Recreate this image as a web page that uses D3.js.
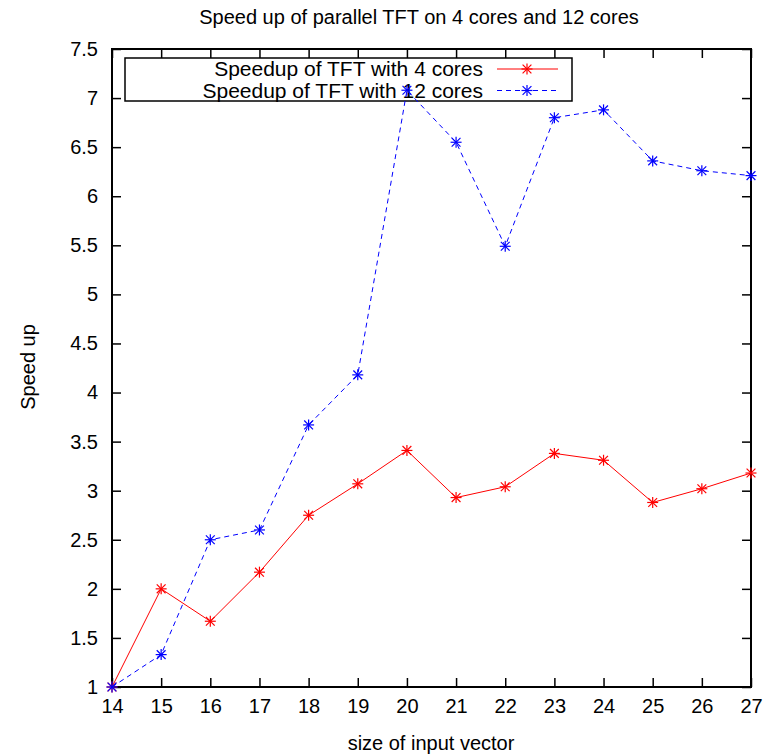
<!DOCTYPE html>
<html><head><meta charset="utf-8">
<script src="https://cdn.jsdelivr.net/npm/d3@7"></script>
<style>
body{margin:0;background:#fff;}
text{font-family:"Liberation Sans",Arial,sans-serif;fill:#000;}
</style></head>
<body>
<svg id="chart" width="766" height="755"></svg>
<script>
const sizes = [14,15,16,17,18,19,20,21,22,23,24,25,26,27];
const speedup4 = [1.00,2.00,1.67,2.17,2.75,3.07,3.41,2.93,3.04,3.38,3.31,2.88,3.02,3.18];
const speedup12 = [1.00,1.33,2.50,2.60,3.67,4.18,7.08,6.55,5.49,6.80,6.88,6.36,6.26,6.21];
const yTicks = [1,1.5,2,2.5,3,3.5,4,4.5,5,5.5,6,6.5,7,7.5];
const seriesNames = ["Speedup of TFT with 4 cores","Speedup of TFT with 12 cores"];
const titleText = "Speed up of parallel TFT on 4 cores and 12 cores";
const xLabel = "size of input vector";
const yLabel = "Speed up";

const svg = d3.select("#chart");
const L=112,R=751,T=49,B=687;
const x = d3.scaleLinear().domain([14,27]).range([L,R]);
const y = d3.scaleLinear().domain([1,7.5]).range([B,T]);
const fs = 20;
const ff = "Liberation Sans, Arial, sans-serif";

const tl = 9;
const g = svg.append("g");
g.append("g").attr("transform",`translate(0,${B})`)
  .call(d3.axisBottom(x).tickValues(sizes).tickSize(-tl).tickPadding(12).tickFormat(d3.format("d")))
  .call(a=>{a.select(".domain").remove();a.selectAll("text").attr("font-size",fs).attr("font-family",ff);a.selectAll("line").attr("stroke-width",1.5);});
g.append("g").attr("transform",`translate(0,${T})`)
  .call(d3.axisTop(x).tickValues(sizes).tickSize(-tl).tickFormat(""))
  .call(a=>{a.select(".domain").remove();a.selectAll("line").attr("stroke-width",1.5);});
g.append("g").attr("transform",`translate(${L},0)`)
  .call(d3.axisLeft(y).tickValues(yTicks).tickSize(-tl).tickPadding(14).tickFormat(d=>d3.format("")(d)))
  .call(a=>{a.select(".domain").remove();a.selectAll("text").attr("font-size",fs).attr("font-family",ff);a.selectAll("line").attr("stroke-width",1.5);});
g.append("g").attr("transform",`translate(${R},0)`)
  .call(d3.axisRight(y).tickValues(yTicks).tickSize(-tl).tickFormat(""))
  .call(a=>{a.select(".domain").remove();a.selectAll("line").attr("stroke-width",1.5);});

svg.append("rect").attr("x",L).attr("y",T).attr("width",R-L).attr("height",B-T)
  .attr("fill","none").attr("stroke","#000").attr("stroke-width",2);

const lg = svg.append("g");
lg.append("rect").attr("x",125).attr("y",58).attr("width",447).attr("height",43)
  .attr("fill","#fff").attr("stroke","#000").attr("stroke-width",1.5);

function star(sel, cx, cy, color){
  const s=5.5;
  const p = sel.append("g").attr("stroke",color).attr("stroke-width",1.2);
  p.append("line").attr("x1",cx-s).attr("x2",cx+s).attr("y1",cy).attr("y2",cy);
  p.append("line").attr("x1",cx).attr("x2",cx).attr("y1",cy-s).attr("y2",cy+s);
  p.append("line").attr("x1",cx-s*0.8).attr("x2",cx+s*0.8).attr("y1",cy-s*0.8).attr("y2",cy+s*0.8);
  p.append("line").attr("x1",cx-s*0.8).attr("x2",cx+s*0.8).attr("y1",cy+s*0.8).attr("y2",cy-s*0.8);
}

const series = [
  {vals:speedup4,color:"#ff0000",dash:null},
  {vals:speedup12,color:"#0000ff",dash:"5,4"}
];
const lineGen = d3.line().x((d,i)=>x(sizes[i])).y(d=>y(d));
series.forEach((s,k)=>{
  const ly = 69 + k*21.5;
  lg.append("text").attr("x",483).attr("y",ly).attr("dy","0.35em").attr("text-anchor","end")
    .attr("font-size",21).text(seriesNames[k]);
  lg.append("line").attr("x1",497).attr("x2",558).attr("y1",ly).attr("y2",ly)
    .attr("stroke",s.color).attr("stroke-width",1).attr("stroke-dasharray",s.dash);
  star(lg,527,ly,s.color);
});

series.forEach(s=>{
  svg.append("path").datum(s.vals).attr("d",lineGen).attr("fill","none")
    .attr("stroke",s.color).attr("stroke-width",1).attr("stroke-dasharray",s.dash);
  s.vals.forEach((v,i)=>star(svg,x(sizes[i]),y(v),s.color));
});

svg.append("text").attr("x",419).attr("y",24).attr("text-anchor","middle").attr("font-size",fs).text(titleText);
svg.append("text").attr("x",431).attr("y",750).attr("text-anchor","middle").attr("font-size",fs).text(xLabel);
svg.append("text").attr("transform","translate(35,367) rotate(-90)").attr("text-anchor","middle").attr("font-size",fs).text(yLabel);
</script>
</body></html>
